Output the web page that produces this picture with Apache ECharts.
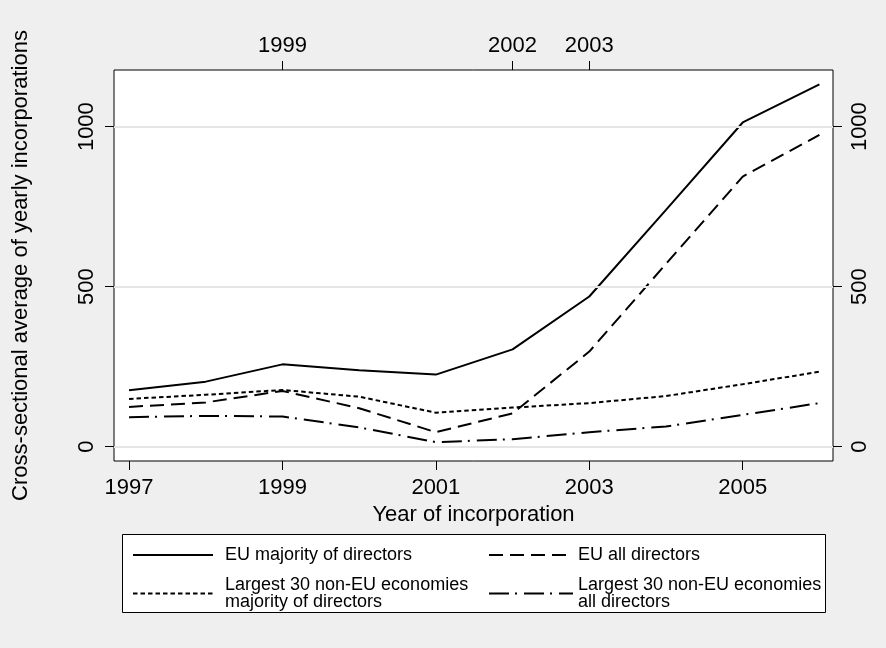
<!DOCTYPE html>
<html>
<head>
<meta charset="utf-8">
<script src="https://cdn.jsdelivr.net/npm/echarts@6/dist/echarts.min.js"></script>
<style>
html,body{margin:0;padding:0;background:#efefef;}
#chart{width:886px;height:648px;}
</style>
</head>
<body>
<div id="chart"></div>
<script>
var years = [1997, 1998, 1999, 2000, 2001, 2002, 2003, 2004, 2005, 2006];
var euMajority = [176, 203, 257, 239, 225, 304, 469, 740, 1013, 1132];
var euAll = [124, 138, 174, 120, 45, 104, 297, 571, 844, 974];
var nonEuMajority = [149, 162, 177, 156, 106, 122, 136, 158, 195, 234];
var nonEuAll = [92, 96, 94, 60, 14, 23, 45, 63, 99, 136];
var bottomTicks = [1997, 1999, 2001, 2003, 2005];
var topTicks = [1999, 2002, 2003];
var yTicks = [0, 500, 1000];
var seriesNames = ['EU majority of directors', 'EU all directors',
  'Largest 30 non-EU economies\nmajority of directors',
  'Largest 30 non-EU economies\nall directors'];

function pairs(vals){ return years.map(function(y,i){ return [y, vals[i]]; }); }
function plain(v){ return String(v); }

var FONT = '"Liberation Sans", Arial, Helvetica, sans-serif';
var chart = echarts.init(document.getElementById('chart'));

function legendAt(name, left, top, iw, pad){
  return {
    data: [name], left: left, top: top, orient: 'horizontal', padding: 0,
    itemWidth: iw, itemHeight: 14, selectedMode: false,
    itemStyle: { opacity: 0 },
    textStyle: { fontFamily: FONT, fontSize: 18, lineHeight: 17, color: '#000', padding: [0,0,0,pad] }
  };
}

var lineBase = { type: 'line', showSymbol: false, symbol: 'none', silent: true, animation: false };

chart.setOption({
  backgroundColor: '#efefef',
  animation: false,
  grid: { left: 114, right: 53, top: 70, bottom: 187, show: true, backgroundColor: '#fff', borderColor: '#000', borderWidth: 1 },
  graphic: [{
    type: 'rect', left: 122, top: 534, z: -1,
    shape: { width: 703, height: 78 },
    style: { fill: '#fff', stroke: '#000', lineWidth: 1 }
  }],
  legend: [
    legendAt(seriesNames[0], 132, 546, 80, 7),
    legendAt(seriesNames[1], 488, 546, 84, 0),
    legendAt(seriesNames[2], 132, 576, 80, 7),
    legendAt(seriesNames[3], 488, 576, 84, 0)
  ],
  xAxis: [{
    type: 'value', position: 'bottom', min: 1996.804, max: 2006.177,
    name: 'Year of incorporation', nameLocation: 'middle', nameGap: 39,
    nameTextStyle: { fontFamily: FONT, fontSize: 22, color: '#000' },
    axisLine: { show: false, onZero: false },
    axisTick: { show: true, length: 9, customValues: bottomTicks, lineStyle: { color: '#000' } },
    axisLabel: { customValues: bottomTicks, fontFamily: FONT, fontSize: 22, color: '#000', margin: 16, formatter: plain },
    splitLine: { show: false }
  }, {
    type: 'value', position: 'top', min: 1996.804, max: 2006.177,
    axisLine: { show: false, onZero: false },
    axisTick: { show: true, length: 9, customValues: topTicks, lineStyle: { color: '#000' } },
    axisLabel: { customValues: topTicks, fontFamily: FONT, fontSize: 22, color: '#000', margin: 13, formatter: plain },
    splitLine: { show: false }
  }],
  yAxis: [{
    type: 'value', position: 'left', min: -45, max: 1177,
    name: 'Cross-sectional average of yearly incorporations', nameLocation: 'middle', nameGap: 82, nameRotate: 90,
    nameTextStyle: { fontFamily: FONT, fontSize: 22, color: '#000' },
    axisLine: { show: false, onZero: false },
    axisTick: { show: true, length: 9, customValues: yTicks, lineStyle: { color: '#000' } },
    axisLabel: { customValues: yTicks, rotate: 90, fontFamily: FONT, fontSize: 22, color: '#000', margin: 16, formatter: plain },
    splitLine: { show: false }
  }, {
    type: 'value', position: 'right', min: -45, max: 1177,
    axisLine: { show: false, onZero: false },
    axisTick: { show: true, length: 9, customValues: yTicks, lineStyle: { color: '#000' } },
    axisLabel: { customValues: yTicks, rotate: 90, fontFamily: FONT, fontSize: 22, color: '#000', margin: 16, formatter: plain },
    splitLine: { show: false }
  }],
  series: [
    Object.assign({}, lineBase, {
      name: seriesNames[0], data: pairs(euMajority), z: 3,
      lineStyle: { color: '#000', width: 2, type: 'solid' },
      itemStyle: { color: '#000' },
      markLine: {
        silent: true, symbol: ['none','none'], label: { show: false }, animation: false,
        lineStyle: { color: '#e5e5e5', width: 2, type: 'solid' },
        data: yTicks.map(function(v){ return { yAxis: v }; })
      }
    }),
    Object.assign({}, lineBase, {
      name: seriesNames[1], data: pairs(euAll), z: 4,
      lineStyle: { color: '#000', width: 2, type: [14, 7] },
      itemStyle: { color: '#000' }
    }),
    Object.assign({}, lineBase, {
      name: seriesNames[2], data: pairs(nonEuMajority), z: 4,
      lineStyle: { color: '#000', width: 2, type: [4.5, 3] },
      itemStyle: { color: '#000' }
    }),
    Object.assign({}, lineBase, {
      name: seriesNames[3], data: pairs(nonEuAll), z: 4,
      lineStyle: { color: '#000', width: 2, type: [20, 6, 2, 7] },
      itemStyle: { color: '#000' }
    })
  ]
});
</script>
</body>
</html>
